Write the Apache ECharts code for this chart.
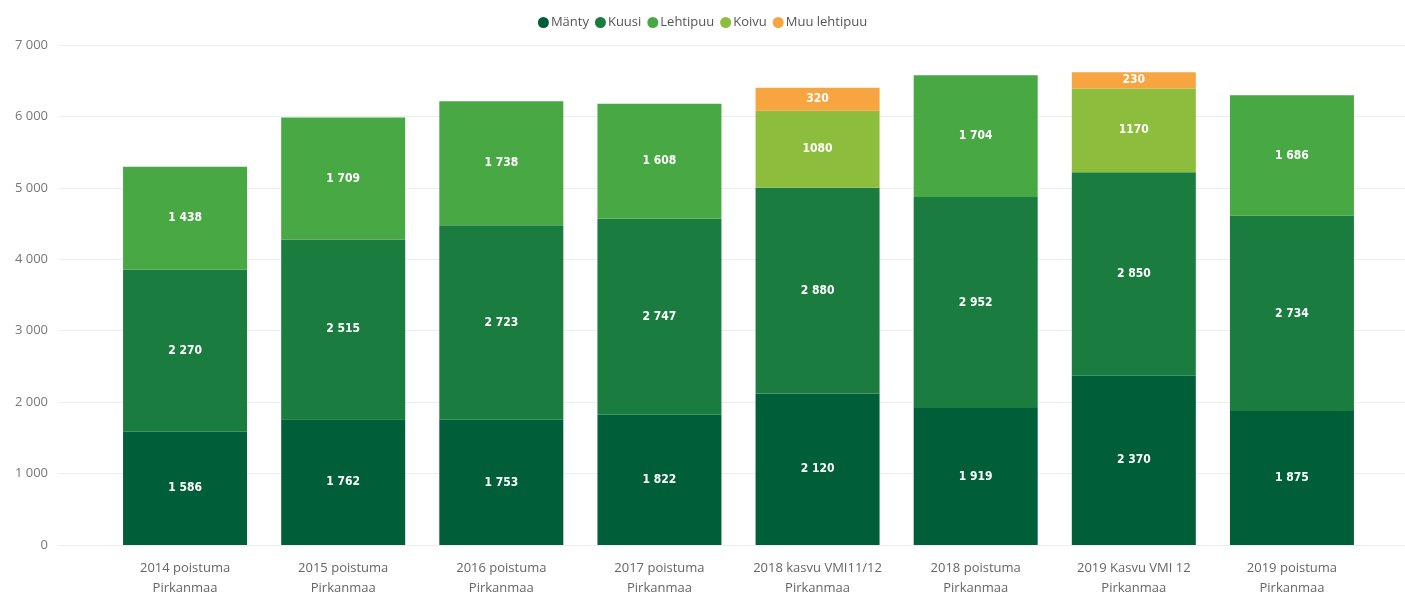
<!DOCTYPE html>
<html>
<head>
<meta charset="utf-8">
<script src="https://cdn.jsdelivr.net/npm/echarts@6/dist/echarts.min.js"></script>
<style>
  html, body { margin: 0; padding: 0; background: #fff; }
  #main { width: 1405px; height: 595px; }
</style>
</head>
<body>
<div id="main"></div>
<script>
const categories = [
  '2014 poistuma\nPirkanmaa', '2015 poistuma\nPirkanmaa', '2016 poistuma\nPirkanmaa',
  '2017 poistuma\nPirkanmaa', '2018 kasvu VMI11/12\nPirkanmaa', '2018 poistuma\nPirkanmaa',
  '2019 Kasvu VMI 12\nPirkanmaa', '2019 poistuma\nPirkanmaa'
];
const manty = [1586, 1762, 1753, 1822, 2120, 1919, 2370, 1875];
const kuusi = [2270, 2515, 2723, 2747, 2880, 2952, 2850, 2734];
const lehtipuu = [1438, 1709, 1738, 1608, null, 1704, null, 1686];
const koivu = [null, null, null, null, 1080, null, 1170, null];
const muuLehtipuu = [null, null, null, null, 320, null, 230, null];
const yTicks = [0, 1000, 2000, 3000, 4000, 5000, 6000, 7000];

const myChart = echarts.init(document.getElementById('main'));

// tuhaterotin välilyönnillä
const spaced = v => String(v).replace(/\B(?=(\d{3})+(?!\d))/g, ' ');

function makeSeries(name, data, color, fmt) {
  return {
    name: name,
    type: 'bar',
    stack: 'total',
    xAxisIndex: 1,
    yAxisIndex: 1,
    barWidth: 124,
    data: data,
    itemStyle: { color: color },
    label: {
      show: true,
      position: 'inside',
      color: '#fff',
      fontWeight: 'bold',
      fontSize: 12,
      fontFamily: 'DejaVu Sans Condensed',
      formatter: p => fmt(p.value)
    }
  };
}

const option = {
  animation: false,
  legend: {
    top: 11,
    left: 'center',
    icon: 'circle',
    itemWidth: 11,
    itemHeight: 11,
    itemGap: 6,
    textStyle: { color: '#555', fontSize: 13, fontFamily: 'Open Sans', padding: [0, 0, 0, -3] }
  },
  grid: [
    { left: 58, right: 0, top: 45, bottom: 50, outerBoundsMode: 'none', containLabel: false },
    { left: 106, right: 34, top: 45, bottom: 50, outerBoundsMode: 'none', containLabel: false }
  ],
  xAxis: [
    { type: 'category', gridIndex: 0, data: categories, show: false },
    {
      type: 'category',
      gridIndex: 1,
      data: categories,
      axisLine: { show: false },
      axisTick: { show: false },
      axisLabel: {
        interval: 0,
        color: '#666',
        fontSize: 13,
        fontFamily: 'Open Sans',
        lineHeight: 20,
        margin: 13
      }
    }
  ],
  yAxis: [
    {
      type: 'value',
      gridIndex: 0,
      min: yTicks[0],
      max: yTicks[yTicks.length - 1],
      interval: 1000,
      axisLabel: {
        color: '#777',
        fontSize: 13,
        fontFamily: 'Open Sans',
        margin: 10,
        formatter: v => spaced(v)
      },
      splitLine: { lineStyle: { color: '#eeeeee' } }
    },
    {
      type: 'value',
      gridIndex: 1,
      min: yTicks[0],
      max: yTicks[yTicks.length - 1],
      interval: 1000,
      show: false,
      splitLine: { show: false }
    }
  ],
  series: [
    makeSeries('Mänty', manty, '#005f38', spaced),
    makeSeries('Kuusi', kuusi, '#1a7c3e', spaced),
    makeSeries('Lehtipuu', lehtipuu, '#47a844', spaced),
    makeSeries('Koivu', koivu, '#8dbd3c', v => String(v)),
    makeSeries('Muu lehtipuu', muuLehtipuu, '#f7a540', v => String(v))
  ]
};

option && myChart.setOption(option);
</script>
</body>
</html>
